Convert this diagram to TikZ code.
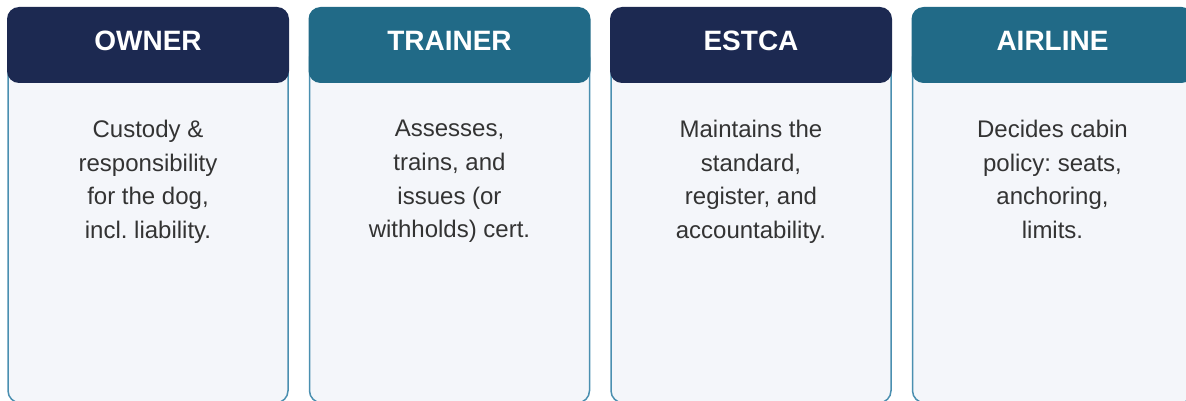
\documentclass[tikz,border=0pt]{standalone}
\usepackage{fontspec}
\setmainfont{Liberation Sans}
\usepackage{tikz}
\usetikzlibrary{positioning}
\frenchspacing
\definecolor{hdnavy}{HTML}{1C2951}
\definecolor{hdteal}{HTML}{216A87}
\definecolor{cardfill}{HTML}{F4F6FA}
\definecolor{cardline}{HTML}{4A8FB0}
\definecolor{roletext}{HTML}{333333}
\tikzstyle{card} = [draw=cardline,line width=1.5pt,fill=cardfill,rectangle,rounded corners=12pt,minimum width=280pt,minimum height=357pt,inner sep=0,anchor=north]
\tikzstyle{head} = [rectangle,rounded corners=12pt,inner sep=0,outer sep=0,minimum width=282pt,minimum height=76pt,text height=20pt,text depth=8pt,text=white,font=\fontsize{28}{32}\selectfont\bfseries]
\tikzstyle{role} = [align=center,inner sep=0,text=roletext,font=\fontsize{24}{33.7}\selectfont]
\def \gap {19.5pt}

\begin{document}
\begin{tikzpicture}[x=1pt,y=1pt]
      \useasboundingbox (0,0) rectangle (1186,-401);
      \clip (0,0) rectangle (1186,-401);
      % card bodies
      \node[card] (ownercard) at (148,-45) {};
      \node[card] (trainercard) [right=20pt of ownercard] {};
      \node[card] (estcacard) [right=20pt of trainercard] {};
      \node[card] (airlinecard) [right=20pt of estcacard] {};
      % headers
      \node[head,fill=hdnavy] (owner) at (148,-45) {OWNER};
      \node[head,fill=hdteal] (trainer) [right=\gap of owner] {TRAINER};
      \node[head,fill=hdnavy] (estca) [right=\gap of trainer] {ESTCA};
      \node[head,fill=hdteal] (airline) [right=\gap of estca] {AIRLINE};
      % roles
      \node[role] (ownerrole) [below=37pt of owner] {Custody \&\\responsibility\\for the dog,\\incl. liability.};
      \node[role] (trainerrole) [below=37pt of trainer] {Assesses,\\trains, and\\issues (or\\withholds) cert.};
      \node[role] (estcarole) [below=37pt of estca] {Maintains the\\standard,\\register, and\\accountability.};
      \node[role] (airlinerole) [below=37pt of airline] {Decides cabin\\policy: seats,\\anchoring,\\limits.};
    \end{tikzpicture}
\end{document}
